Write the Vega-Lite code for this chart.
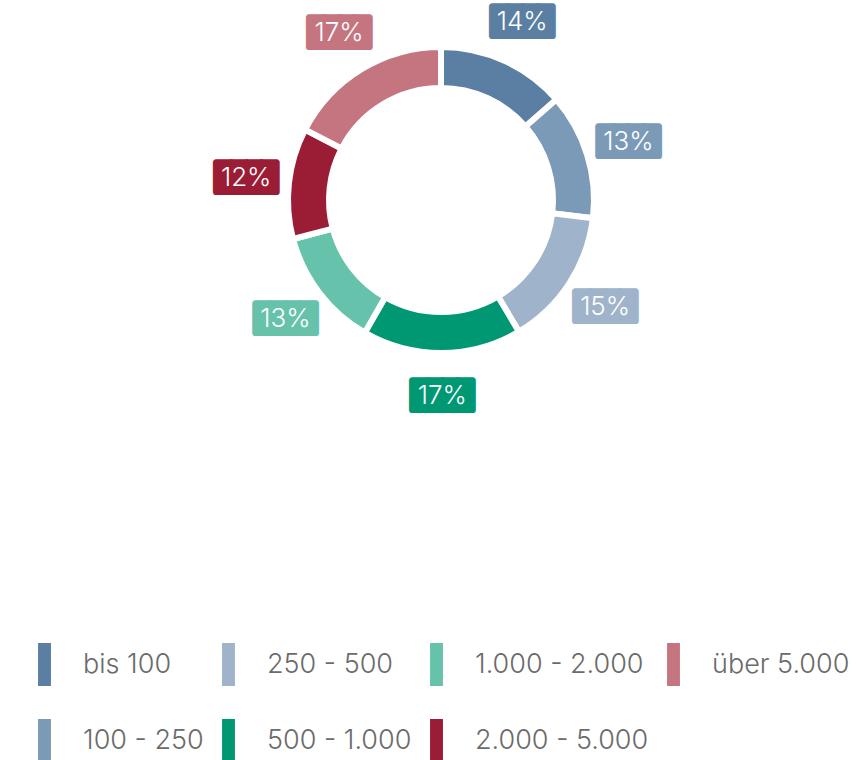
{
  "$schema": "https://vega.github.io/schema/vega-lite/v6.json",
  "width": 836,
  "height": 400,
  "padding": {"left": 23, "top": 0, "right": 0, "bottom": 0},
  "autosize": {"type": "pad"},
  "background": "white",
  "config": {"view": {"stroke": null}},
  "data": {
    "values": [
      {"klasse": "bis 100", "anteil": 0.136, "rang": 1},
      {"klasse": "100 - 250", "anteil": 0.133, "rang": 2},
      {"klasse": "250 - 500", "anteil": 0.146, "rang": 3},
      {"klasse": "500 - 1.000", "anteil": 0.168, "rang": 4},
      {"klasse": "1.000 - 2.000", "anteil": 0.126, "rang": 5},
      {"klasse": "2.000 - 5.000", "anteil": 0.117, "rang": 6},
      {"klasse": "über 5.000", "anteil": 0.174, "rang": 7}
    ]
  },
  "layer": [
    {
      "data": {"values": [{}]},
      "mark": {"type": "arc", "theta": 0, "theta2": 6.2832, "outerRadius": 155, "innerRadius": 111, "fill": "#f3f4f6"},
      "encoding": {}
    },
    {
      "mark": {"type": "arc", "outerRadius": 153, "innerRadius": 112, "stroke": "white", "strokeWidth": 6},
      "encoding": {
        "theta": {"field": "anteil", "type": "quantitative", "stack": true},
        "order": {"field": "rang", "type": "quantitative"},
        "color": {
          "field": "klasse",
          "type": "nominal",
          "scale": {
            "domain": ["bis 100", "250 - 500", "1.000 - 2.000", "über 5.000", "100 - 250", "500 - 1.000", "2.000 - 5.000"],
            "range": ["#5a7fa3", "#9fb4ca", "#67c2ab", "#c47580", "#7b9ab7", "#009873", "#9b1c35"]
          },
          "legend": {
            "orient": "none",
            "legendX": 0,
            "legendY": 643,
            "title": null,
            "columns": 4,
            "direction": "horizontal",
            "symbolType": "M-0.3,-1H0.3V1H-0.3Z",
            "symbolSize": 1849,
            "symbolStrokeWidth": 0,
            "symbolOpacity": 1,
            "labelFont": "Inter",
            "labelFontSize": 27,
            "labelFontWeight": 300,
            "labelColor": "#6b6b6b",
            "labelOffset": 17,
            "rowPadding": 33,
            "columnPadding": 3,
            "padding": 0,
            "labelLimit": 0
          }
        }
      }
    },
    {
      "mark": {"type": "text", "radius": 196, "text": "████", "font": "DejaVu Sans Mono", "fontSize": 25, "align": "center", "baseline": "middle", "strokeWidth": 6, "strokeJoin": "round"},
      "encoding": {
        "theta": {"field": "anteil", "type": "quantitative", "stack": true},
        "order": {"field": "rang", "type": "quantitative"},
        "color": {"field": "klasse", "type": "nominal"},
        "stroke": {
          "field": "klasse",
          "type": "nominal",
          "scale": {
            "domain": ["bis 100", "250 - 500", "1.000 - 2.000", "über 5.000", "100 - 250", "500 - 1.000", "2.000 - 5.000"],
            "range": ["#5a7fa3", "#9fb4ca", "#67c2ab", "#c47580", "#7b9ab7", "#009873", "#9b1c35"]
          },
          "legend": null
        }
      }
    },
    {
      "mark": {"type": "text", "radius": 196, "font": "Inter", "fontSize": 26, "fontWeight": 300, "fill": "white", "align": "center", "baseline": "middle"},
      "encoding": {
        "theta": {"field": "anteil", "type": "quantitative", "stack": true},
        "order": {"field": "rang", "type": "quantitative"},
        "text": {"field": "anteil", "type": "quantitative", "format": ".0%"}
      }
    }
  ]
}
